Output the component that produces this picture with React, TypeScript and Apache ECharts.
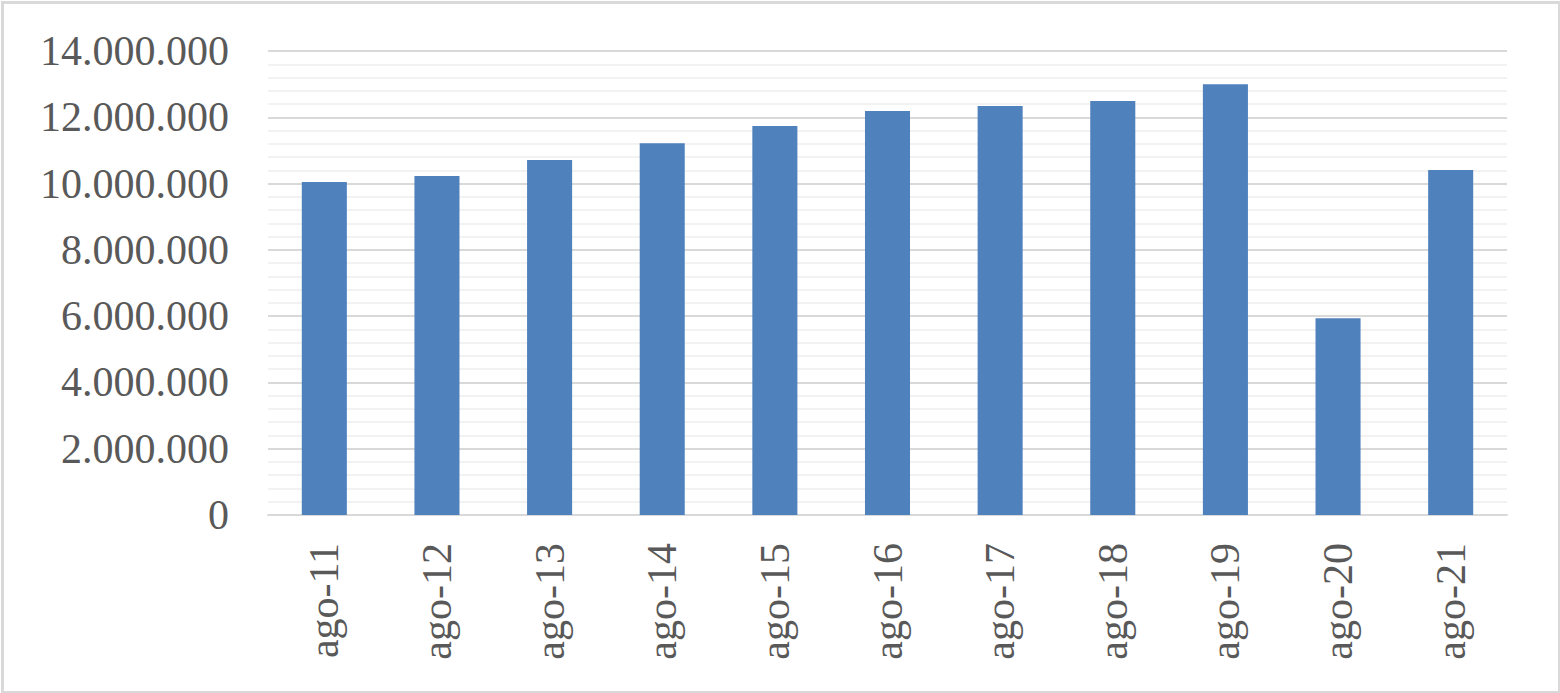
import React, { useEffect, useRef } from "react";
import * as echarts from "echarts";

const categories = ["ago-11", "ago-12", "ago-13", "ago-14", "ago-15", "ago-16", "ago-17", "ago-18", "ago-19", "ago-20", "ago-21"];
const values = [10050000, 10230000, 10710000, 11220000, 11740000, 12190000, 12340000, 12490000, 13000000, 5940000, 10410000];
const yMin = 0;
const yMax = 14000000;
const yInterval = 2000000;

const fmt = (v: number) => String(Math.round(v)).replace(/\B(?=(\d{3})+(?!\d))/g, ".");

export default function App() {
  const ref = useRef<HTMLDivElement>(null);
  useEffect(() => {
    document.body.style.margin = "0";
    const chart = echarts.init(ref.current!, null, { renderer: "svg" });
    const font = "'Liberation Serif', 'Times New Roman', serif";
    chart.setOption({
      animation: false,
      backgroundColor: "#ffffff",
      grid: { left: 268, right: 53, top: 51, bottom: 178, containLabel: false },
      graphic: [
        {
          type: "rect",
          left: 0,
          top: 0,
          shape: { x: 1, y: 1, width: 1557, height: 690 },
          style: { fill: "none", stroke: "#d9d9d9", lineWidth: 3 },
          silent: true,
        },
      ],
      xAxis: {
        type: "category",
        data: categories,
        axisLine: { show: true, lineStyle: { color: "#d9d9d9", width: 2 } },
        axisTick: { show: false },
        axisLabel: {
          rotate: 90,
          margin: 28,
          color: "#595959",
          fontSize: 42,
          fontFamily: font,
        },
        splitLine: { show: false },
      },
      yAxis: {
        type: "value",
        min: yMin,
        max: yMax,
        interval: yInterval,
        axisLine: { show: false },
        axisTick: { show: false },
        axisLabel: {
          formatter: (v: number) => fmt(v),
          margin: 39,
          color: "#595959",
          fontSize: 42,
          fontFamily: font,
        },
        splitLine: { show: true, lineStyle: { color: "#d9d9d9", width: 2 } },
        minorTick: { show: false, splitNumber: 5 },
        minorSplitLine: { show: true, lineStyle: { color: "#f2f2f2", width: 2 } },
      },
      series: [
        {
          type: "bar",
          data: values,
          barWidth: "40%",
          itemStyle: { color: "#4f81bd" },
          z: 3,
        },
      ],
    });
    return () => chart.dispose();
  }, []);
  return (
    <div style={{ position: "fixed", left: 0, top: 0, width: 1560, height: 693 }}>
      <div ref={ref} style={{ width: 1560, height: 693 }} />
    </div>
  );
}
